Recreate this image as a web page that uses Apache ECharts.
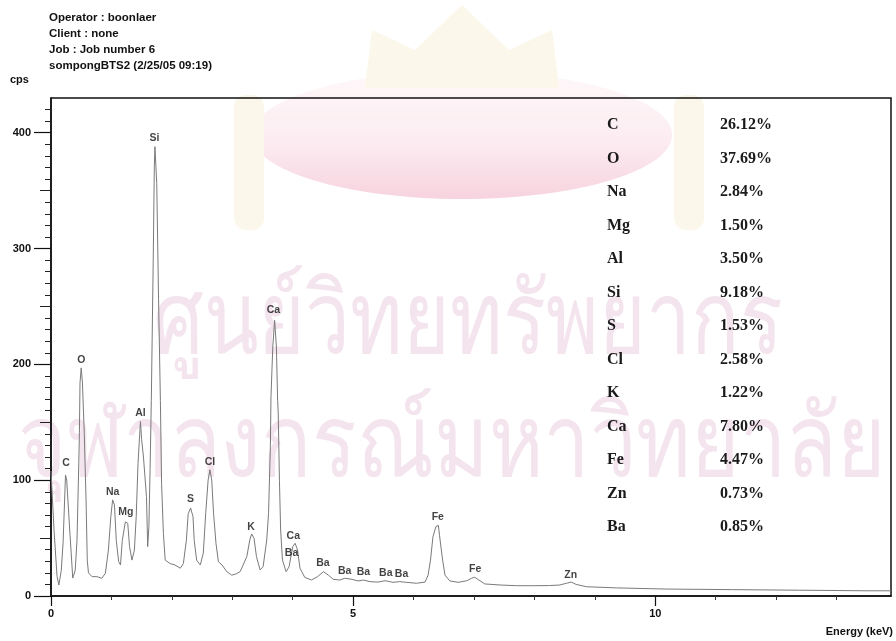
<!DOCTYPE html>
<html><head><meta charset="utf-8">
<script src="https://cdn.jsdelivr.net/npm/echarts@6/dist/echarts.min.js"></script>
<style>html,body{margin:0;padding:0;background:#fff}#c{width:896px;height:641px}</style>
</head><body><div id="c"></div>
<script>
// ---- data ----
const energyKeV = [0.00,0.02,0.05,0.10,0.13,0.17,0.20,0.24,0.26,0.31,0.36,0.40,0.43,0.46,0.47,0.48,0.50,0.52,0.55,0.58,0.60,0.62,0.68,0.76,0.84,0.90,0.95,0.99,1.02,1.05,1.08,1.12,1.15,1.18,1.23,1.27,1.30,1.34,1.38,1.41,1.44,1.48,1.50,1.53,1.58,1.60,1.62,1.64,1.66,1.69,1.71,1.72,1.75,1.78,1.81,1.83,1.86,1.89,1.97,2.05,2.14,2.19,2.24,2.27,2.31,2.35,2.37,2.41,2.47,2.52,2.56,2.60,2.63,2.66,2.69,2.73,2.77,2.83,2.91,2.99,3.06,3.13,3.24,3.29,3.32,3.36,3.40,3.46,3.51,3.57,3.60,3.63,3.64,3.67,3.70,3.73,3.75,3.76,3.78,3.80,3.83,3.89,3.94,4.00,4.04,4.08,4.12,4.20,4.31,4.41,4.51,4.59,4.67,4.78,4.86,4.98,5.08,5.17,5.28,5.41,5.53,5.66,5.77,5.88,6.05,6.19,6.24,6.28,6.32,6.37,6.41,6.43,6.48,6.52,6.60,6.74,6.88,6.96,7.01,7.08,7.18,7.43,7.70,7.98,8.25,8.42,8.53,8.61,8.69,8.86,9.36,10.18,11.28,12.39,13.49,13.90];
const countsCps = [108,109,57,17,9.5,22,46,104.5,100,57,15.5,22,48,115,141,184,197,184,141,83,31,20,16.7,16.7,15.3,19.6,39.7,68.5,83,78.6,48,29.6,26.8,48,64,62.8,42.6,31,39.7,68.5,114.6,150.6,135,120,85.8,42.6,60,110,169,284,371,388,356,256,169,97,54,31,28,26.8,24,28,48,71,76,68.5,48,31,26.8,36.9,71.4,100,109,100,71.4,45.5,29.6,26.8,21,18,19,21,34,48.4,53.6,49.8,34,22.5,25.3,48.4,71.4,129,172,215,238,215,169,158,100,57,31,21,25.3,42.6,45.5,39.7,24,16,13.8,16.7,21,18,14.4,13.8,15.3,14.4,13,13.8,12.4,12,13.2,11.8,12.4,11.8,11,12,18,31,51,60,61,52,31,18,13,11.8,13.2,15.3,16.2,13.8,10.4,9.5,8.9,8.9,9,9.5,11,12,10,8,7,6,5.5,5,4.5,4.5];

const peakNames     = ['C','O','Na','Mg','Al','Si','S','Cl','K','Ca','Ca','Ba','Ba','Ba','Ba','Ba','Ba','Fe','Fe','Zn'];
const peakEnergy    = [0.25,0.50,1.02,1.24,1.48,1.71,2.31,2.63,3.31,3.68,4.01,3.98,4.50,4.86,5.17,5.54,5.80,6.40,7.02,8.60];
const peakLabelCps  = [114.6,203.9,90.1,72.8,157.8,395.4,83.5,116,59.9,246.5,52.1,36.9,28.3,21.6,21.0,19.6,18.7,68.5,23.1,18.1];

const tableElements = ['C','O','Na','Mg','Al','Si','S','Cl','K','Ca','Fe','Zn','Ba'];
const tablePercents = ['26.12%','37.69%','2.84%','1.50%','3.50%','9.18%','1.53%','2.58%','1.22%','7.80%','4.47%','0.73%','0.85%'];

const headerLines = ['Operator : boonlaer','Client : none','Job : Job number 6','sompongBTS2 (2/25/05 09:19)'];
const xTickLabels = [0,5,10];
const xMinorTicks = [1,2,3,4,6,7,8,9,11,12,13];
const yTickLabels = [0,100,200,300,400];
const yMidTicks = [50,150,250,350];
const yMinorTicks = [10,20,30,40,60,70,80,90,110,120,130,140,160,170,180,190,210,220,230,240,260,270,280,290,310,320,330,340,360,370,380,390,410,420];
const xAxisName = 'Energy (keV)';
const yAxisName = 'cps';
const watermarkLines = ['ศูนย์วิทยทรัพยากร','จุฬาลงกรณ์มหาวิทยาลัย'];

// ---- chart ----
const chart = echarts.init(document.getElementById('c'), null, {renderer:'canvas'});
const sans = '"Liberation Sans", Arial, sans-serif';
const serif = '"Liberation Serif", "Times New Roman", serif';
const ink = '#111';

const spectrum = energyKeV.map((e,i)=>[e,countsCps[i]]);
const peaks = peakNames.map((n,i)=>({name:n, value:[peakEnergy[i], peakLabelCps[i]]}));

const graphics = [];
// faint watermark emblem
graphics.push({type:'ellipse', z:-10, shape:{cx:462,cy:135,rx:210,ry:64},
  style:{fill:new echarts.graphic.LinearGradient(0,0,0,1,[{offset:0,color:'#fef8f9'},{offset:0.55,color:'#fcecf1'},{offset:1,color:'#f7d3de'}])}});
graphics.push({type:'polygon', z:-9, shape:{points:[[365,88],[372,30],[415,50],[462,5],[509,50],[552,30],[559,88]]},
  style:{fill:'#fbf7ea'}});
graphics.push({type:'rect', z:-9, shape:{x:234,y:95,width:30,height:135,r:12}, style:{fill:'#fbf7ea'}});
graphics.push({type:'rect', z:-9, shape:{x:674,y:95,width:30,height:135,r:12}, style:{fill:'#fbf7ea'}});
graphics.push({type:'text', z:-8, x:468, y:325, scaleX:0.8,
  style:{text:watermarkLines[0], font:'100px "Noto Sans", "DejaVu Sans", sans-serif', fill:'#f4e4ee', align:'center', verticalAlign:'middle'}});
graphics.push({type:'text', z:-8, x:452, y:448, scaleX:0.83,
  style:{text:watermarkLines[1], font:'100px "Noto Sans", "DejaVu Sans", sans-serif', fill:'#f4e4ee', align:'center', verticalAlign:'middle'}});

headerLines.forEach((t,i)=>graphics.push({type:'text', x:49, y:18+16*i,
  style:{text:t, font:'bold 11.5px '+sans, fill:ink, verticalAlign:'middle'}}));
graphics.push({type:'text', x:10, y:80, style:{text:yAxisName, font:'bold 11px '+sans, fill:ink, verticalAlign:'middle'}});
graphics.push({type:'text', x:893, y:632, style:{text:xAxisName, font:'bold 11px '+sans, fill:ink, align:'right', verticalAlign:'middle'}});
tableElements.forEach((t,i)=>{
  graphics.push({type:'text', x:607, y:125+33.5*i, style:{text:t, font:'bold 16px '+serif, fill:'#1a1a1a', verticalAlign:'middle'}});
  graphics.push({type:'text', x:720, y:125+33.5*i, style:{text:tablePercents[i], font:'bold 16px '+serif, fill:'#1a1a1a', verticalAlign:'middle'}});
});

const axisLineStyle = {color:ink, width:1.5};
const hiddenLabel = {show:false};
const option = {
  animation:false,
  backgroundColor:'#fff',
  grid:{left:51, right:5, top:98, bottom:45, show:true, borderColor:ink, borderWidth:1.5, backgroundColor:'transparent'},
  xAxis:[
    {type:'value', min:0, max:13.9, interval:5, position:'bottom',
     axisLine:{onZero:false, lineStyle:axisLineStyle},
     axisTick:{length:10, customValues:xTickLabels, lineStyle:{color:ink, width:1.2}},
     axisLabel:{margin:12, color:ink, fontFamily:sans, fontSize:11, fontWeight:'bold', customValues:xTickLabels,
       formatter:v=>xTickLabels.includes(v)?String(v):''},
     splitLine:{show:false}},
    {type:'value', min:0, max:13.9, interval:1, position:'bottom',
     axisLine:{show:false}, axisTick:{length:4, customValues:xMinorTicks, lineStyle:{color:'#333', width:1}},
     axisLabel:hiddenLabel, splitLine:{show:false}}
  ],
  yAxis:[
    {type:'value', min:0, max:430, interval:100, position:'left',
     axisLine:{show:true, onZero:false, lineStyle:axisLineStyle},
     axisTick:{show:true, length:17, customValues:yTickLabels, lineStyle:{color:ink, width:1.2}},
     axisLabel:{margin:20, color:ink, fontFamily:sans, fontSize:11, fontWeight:'bold', customValues:yTickLabels,
       formatter:v=>yTickLabels.includes(v)?String(v):''},
     splitLine:{show:false}},
    {type:'value', min:0, max:430, interval:50, position:'left',
     axisLine:{show:false}, axisTick:{show:true, length:11, customValues:yMidTicks, lineStyle:{color:'#222', width:1}},
     axisLabel:hiddenLabel, splitLine:{show:false}},
    {type:'value', min:0, max:430, interval:10, position:'left',
     axisLine:{show:false}, axisTick:{show:true, length:6, customValues:yMinorTicks, lineStyle:{color:'#222', width:1}},
     axisLabel:hiddenLabel, splitLine:{show:false}}
  ],
  series:[
    {type:'line', data:spectrum, showSymbol:false, symbol:'none', smooth:false,
     lineStyle:{color:'#7a7a7a', width:1}, z:3},
    {type:'scatter', data:peaks, symbolSize:0, z:4,
     label:{show:true, position:'inside', formatter:p=>p.name, color:ink,
       fontFamily:sans, fontSize:10.5, fontWeight:'bold'}}
  ],
  graphic:graphics
};
chart.setOption(option);
</script></body></html>
